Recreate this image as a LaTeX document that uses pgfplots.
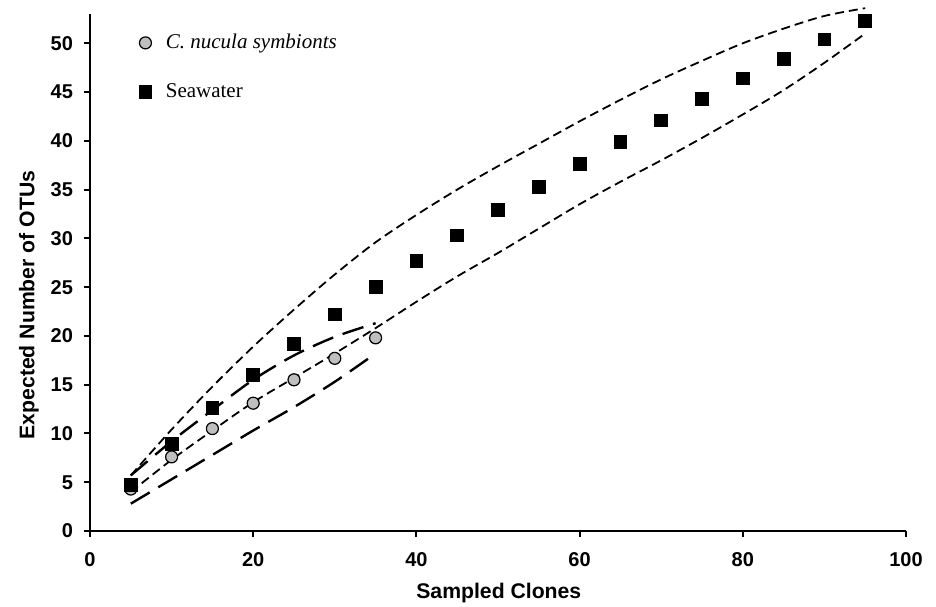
\documentclass[border=0pt]{standalone}
\usepackage{fontspec}
\setmainfont{Liberation Serif}
\setsansfont{Liberation Sans}
\usepackage{pgfplots}
\pgfplotsset{compat=1.18}

\begin{document}
\begin{tikzpicture}
\begin{axis}[
  scale only axis, width=408pt, height=258.5pt,
  xmin=0, xmax=100, ymin=0, ymax=53,
  clip=false,
  axis x line*=bottom, axis y line*=left,
  axis line style={line width=1pt},
  xtick={0,20,...,100}, ytick={0,5,...,50},
  tick align=outside, major tick length=3pt,
  every tick/.style={black, line width=1pt},
  tick label style={font=\sffamily\bfseries\fontsize{10}{12}\selectfont},
  xticklabel style={yshift=-4pt},
  yticklabel style={xshift=-2pt},
  /pgf/number format/assume math mode=true,
  xlabel={Sampled Clones}, ylabel={Expected Number of OTUs},
  every axis x label/.style={at={(axis description cs:0.501,-0.12)}, anchor=center,
    font=\sffamily\bfseries\fontsize{10.6}{12}\selectfont},
  every axis y label/.style={at={(axis description cs:-0.0748,0.437)}, rotate=90, anchor=center,
    font=\sffamily\bfseries\fontsize{10.6}{12}\selectfont},
  legend style={at={(axis cs:4.0,51.8)}, anchor=north west, draw=none, fill=none,
    font=\rmfamily\fontsize{10.5}{12}\selectfont, row sep=12pt},
  legend cell align=left,
  legend image code/.code={\draw[#1] plot coordinates {(0pt,0pt)}; \path (-8pt,0pt) (8pt,0pt);},
]
% seawater confidence bounds (short dash)
\addplot[forget plot, black, line width=0.9pt, dash pattern=on 4.5pt off 2.5pt, smooth] coordinates {
  (5,5.7) (10,10.4) (15,14.8) (20,18.9) (25,22.7) (30,26.3) (35,29.6) (40,32.4)
  (45,35.0) (50,37.4) (55,39.7) (60,42.0) (65,44.2) (70,46.3) (75,48.2) (80,50.0)
  (85,51.5) (90,52.8) (95,53.6) };
\addplot[forget plot, black, line width=0.9pt, dash pattern=on 4.5pt off 2.5pt, smooth] coordinates {
  (5,4.0) (10,7.3) (15,10.3) (20,13.2) (25,15.7) (30,18.2) (35,20.8) (40,23.5)
  (45,26.1) (50,28.5) (55,31.0) (60,33.5) (65,35.8) (70,38.0) (75,40.3) (80,42.7)
  (85,45.2) (90,48.0) (95,51.0) };
% symbiont confidence bounds (long dash)
\addplot[forget plot, black, line width=1.2pt, dash pattern=on 11pt off 5pt, smooth] coordinates {
  (5,5.7) (10,9.2) (15,12.4) (20,15.5) (25,18.0) (30,19.9) (35,21.3) };
\addplot[forget plot, black, line width=1.2pt, dash pattern=on 11pt off 5pt, smooth] coordinates {
  (5,2.8) (10,5.3) (15,7.8) (20,10.3) (25,12.7) (30,15.3) (35,18.2) };
% rarefaction points
\addplot[only marks, mark=*, mark size=3pt, mark options={fill=black!25, draw=black, line width=0.6pt}] coordinates {
  (5,4.3) (10,7.6) (15,10.5) (20,13.1) (25,15.5) (30,17.7) (35,19.8) };
\addlegendentry{\textit{C. nucula symbionts}}
\addplot[only marks, mark=square*, mark size=3.2pt, mark options={fill=black, draw=black}] coordinates {
  (5,4.7) (10,8.9) (15,12.6) (20,16.0) (25,19.2) (30,22.2) (35,25.0) (40,27.7)
  (45,30.3) (50,32.9) (55,35.3) (60,37.6) (65,39.9) (70,42.1) (75,44.3) (80,46.4)
  (85,48.4) (90,50.4) (95,52.3) };
\addlegendentry{Seawater}
\coordinate (sw) at (rel axis cs:0,0);
\coordinate (ne) at (rel axis cs:1,1);
\end{axis}
\pgfresetboundingbox
\path ([shift={(-45pt,-37.5pt)}]sw) rectangle ([shift={(15pt,7pt)}]ne);
\end{tikzpicture}
\end{document}
